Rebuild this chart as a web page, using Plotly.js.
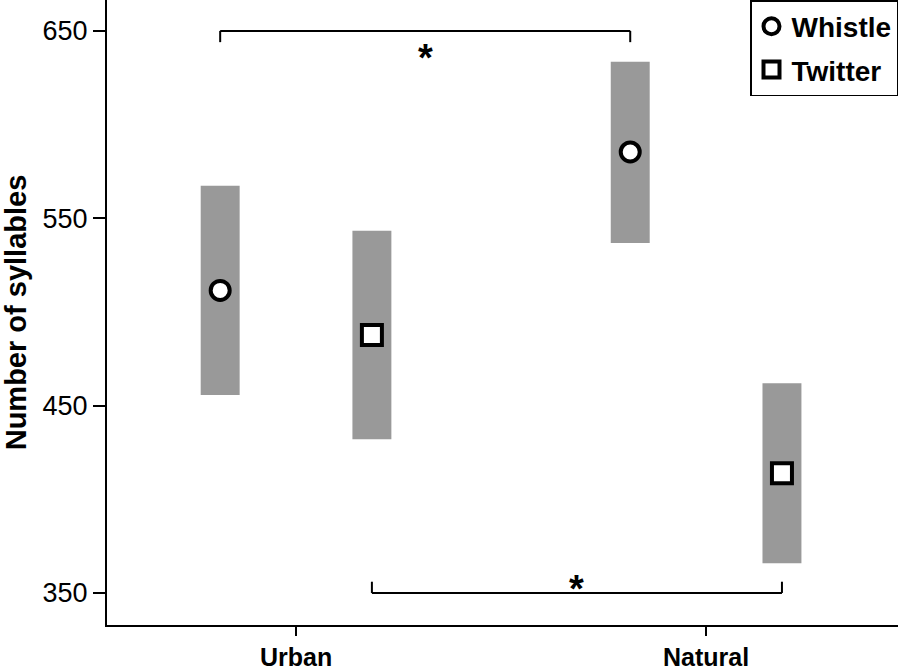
<!DOCTYPE html>
<html>
<head>
<meta charset="utf-8">
<script src="https://cdn.plot.ly/plotly-3.0.1.min.js"></script>
<style>
  html, body { margin: 0; padding: 0; background: #fff; }
  #plot { width: 898px; height: 672px; }
</style>
</head>
<body>
<div id="plot"></div>
<script>
// categories on the x axis
let categories = ["Urban", "Natural"];

// Whistle: mean and interval
let whistleMean = [511.5, 585.4];
let whistleLow = [455.7, 536.8];
let whistleHigh = [567.3, 633.5];

// Twitter: mean and interval
let twitterMean = [487.7, 413.9];
let twitterLow = [432.0, 365.8];
let twitterHigh = [543.4, 462.0];

// significance brackets: [from category, to category, level]
let sigTop = {from: 0, to: 1, level: 650};
let sigBottom = {from: 0, to: 1, level: 350};

let yTicks = [350, 450, 550, 650];

let font = "Liberation Sans, Arial, sans-serif";
let shift = 0.185;
let barW = 0.095;
let grey = "#999999";

let catPos = categories.map((c, i) => i + 1);
let whistleX = catPos.map(p => p - shift);
let twitterX = catPos.map(p => p + shift);

// grey interval bars
let whistleBar = {
  type: "bar",
  x: whistleX,
  base: whistleLow,
  y: whistleHigh.map((h, i) => h - whistleLow[i]),
  width: barW,
  marker: {color: grey, line: {width: 0}},
  showlegend: false,
  hoverinfo: "skip"
};

let twitterBar = {
  type: "bar",
  x: twitterX,
  base: twitterLow,
  y: twitterHigh.map((h, i) => h - twitterLow[i]),
  width: barW,
  marker: {color: grey, line: {width: 0}},
  showlegend: false,
  hoverinfo: "skip"
};

// mean points
let whistlePts = {
  type: "scatter",
  mode: "markers",
  name: "Whistle",
  legendgroup: "w",
  x: whistleX,
  y: whistleMean,
  marker: {symbol: "circle", size: 19, color: "#fff", line: {color: "#000", width: 4}}
};

let twitterPts = {
  type: "scatter",
  mode: "markers",
  name: "Twitter",
  legendgroup: "t",
  x: twitterX,
  y: twitterMean,
  marker: {symbol: "square", size: 20, color: "#fff", line: {color: "#000", width: 4}}
};

// bracket shapes
function bracket(x0, x1, level, dir) {
  let drop = 6 * dir;
  let ln = {color: "#000", width: 2};
  return [
    {type: "line", xref: "x", yref: "y", x0: x0, x1: x1, y0: level, y1: level, line: ln},
    {type: "line", xref: "x", yref: "y", x0: x0, x1: x0, y0: level, y1: level + drop, line: ln},
    {type: "line", xref: "x", yref: "y", x0: x1, x1: x1, y0: level, y1: level + drop, line: ln}
  ];
}

let shapes = []
  .concat(bracket(whistleX[sigTop.from], whistleX[sigTop.to], sigTop.level, -1))
  .concat(bracket(twitterX[sigBottom.from], twitterX[sigBottom.to], sigBottom.level, 1));

let annotations = [
  {
    x: (whistleX[sigTop.from] + whistleX[sigTop.to]) / 2, y: sigTop.level,
    xref: "x", yref: "y", text: "*", showarrow: false,
    yanchor: "top", yshift: -4,
    font: {family: font, size: 38, color: "#000", weight: "bold"}
  },
  {
    x: (twitterX[sigBottom.from] + twitterX[sigBottom.to]) / 2, y: sigBottom.level,
    xref: "x", yref: "y", text: "*", showarrow: false,
    yanchor: "top", yshift: 27,
    font: {family: font, size: 38, color: "#000", weight: "bold"}
  }
];

let layout = {
  width: 898,
  height: 672,
  margin: {l: 107, r: 0, t: 0, b: 47},
  paper_bgcolor: "#fff",
  plot_bgcolor: "#fff",
  font: {family: font, color: "#000"},
  barmode: "overlay",
  showlegend: true,
  legend: {
    x: 1, xanchor: "right", y: 1, yanchor: "top",
    bordercolor: "#000", borderwidth: 1.5,
    bgcolor: "#fff",
    font: {family: font, size: 28, weight: "bold", color: "#000"},
    traceorder: "grouped",
    tracegroupgap: 4
  },
  xaxis: {
    range: [0.539, 2.468],
    tickvals: catPos,
    ticktext: categories,
    showline: true, linecolor: "#000", linewidth: 2,
    ticks: "outside", ticklen: 9, tickwidth: 2, tickcolor: "#000",
    showgrid: false, zeroline: false,
    tickfont: {family: font, size: 25, weight: "bold", color: "#000"},
    automargin: false
  },
  yaxis: {
    range: [332.9, 666.5],
    tickvals: yTicks,
    showline: true, linecolor: "#000", linewidth: 2,
    ticks: "outside", ticklen: 12, tickwidth: 2, tickcolor: "#000",
    showgrid: false, zeroline: false,
    tickfont: {family: font, size: 27, color: "#000"},
    title: {text: "Number of syllables", standoff: 12,
            font: {family: font, size: 29, weight: "bold", color: "#000"}},
    automargin: false
  },
  shapes: shapes,
  annotations: annotations
};

Plotly.newPlot("plot", [whistleBar, twitterBar, whistlePts, twitterPts], layout, {staticPlot: true});
</script>
</body>
</html>
